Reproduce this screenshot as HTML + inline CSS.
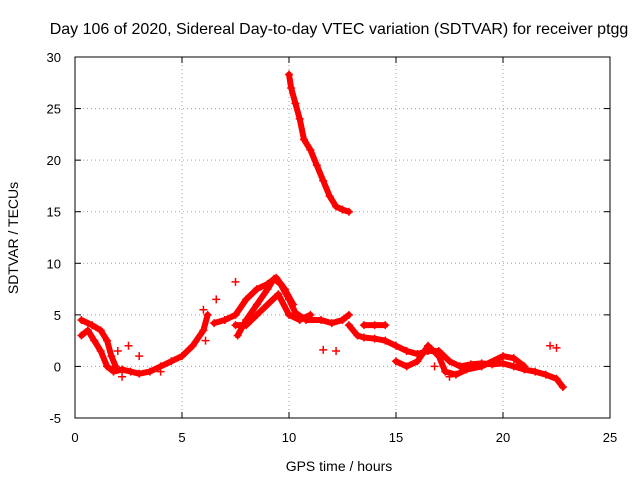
<!DOCTYPE html>
<html><head><meta charset="utf-8"><style>
body{margin:0;background:#fff}
svg{display:block;font-family:"Liberation Sans",sans-serif}
</style></head><body>
<svg id="chart" width="640" height="480" viewBox="0 0 640 480">
<text x="339" y="34" font-size="16" text-anchor="middle">Day 106 of 2020, Sidereal Day-to-day VTEC variation (SDTVAR) for receiver ptgg</text>
<text x="339" y="471" font-size="14" text-anchor="middle">GPS time / hours</text>
<text x="18" y="238" font-size="14" text-anchor="middle" transform="rotate(-90 18 238)">SDTVAR / TECUs</text>
<g id="grid"></g>
<g id="ticks"></g>
<g id="marks"></g>
<rect x="75" y="57" width="535" height="361" fill="none" stroke="#000" stroke-width="1"/>
</svg>
<script>
const xTicks=[0,5,10,15,20,25];
const yTicks=[-5,0,5,10,15,20,25,30];
const trackHigh=[[10,28.3],[10.1,27],[10.3,25.5],[10.5,24],[10.7,22],[11,21],[11.3,19.5],[11.6,18],[11.9,16.5],[12.2,15.5],[12.5,15.2],[12.8,15]];
const trackEarly1=[[0.3,3],[0.6,3.5],[0.9,2.5],[1.2,1.5],[1.5,0],[1.8,-0.5],[2.2,-0.3],[2.6,-0.5],[3,-0.7],[3.5,-0.5],[4,0],[4.5,0.5],[5,1],[5.5,2],[6,3.5],[6.2,5]];
const trackEarly2=[[0.3,4.5],[0.8,4],[1.2,3.5],[1.5,2.5],[1.7,1],[1.9,0]];
const trackHump1=[[7.6,3],[8,4.5],[8.5,6],[9,7.5],[9.3,8.5],[9.6,8],[10,6.5],[10.3,5.2],[10.8,4.5],[11.5,4.5],[12,4.2],[12.5,4.5],[12.8,5]];
const trackHump2=[[6.5,4.2],[7,4.5],[7.5,5],[8,6.5],[8.5,7.5],[9,8],[9.4,8.6],[9.8,7.5],[10.2,6]];
const trackHump3=[[7.5,4],[8,4],[8.5,5],[9,6],[9.5,7],[10,5],[10.5,4.5],[11,5]];
const trackLate1=[[12.8,4],[13.2,3],[13.5,2.8],[14,2.7],[14.5,2.5],[15,2],[15.5,1.5],[16,1.2],[16.5,1.5],[17,1.5],[17.5,0.5],[18,0],[18.5,0.2],[19,0.3],[19.5,0.2],[20,0.3],[20.5,0],[21,-0.3],[21.5,-0.5],[22,-0.8],[22.5,-1.2],[22.8,-2]];
const trackLate2=[[15,0.5],[15.5,0],[16,0.5],[16.5,2],[17,1],[17.3,-0.5],[17.8,-0.8],[18.3,-0.3],[19,0],[20,1],[20.5,0.8],[21,0]];
const trackLate3=[[13.5,4],[14,4],[14.5,4]];
const scattered=[[11.6,1.6],[12.2,1.5],[22.2,2],[22.5,1.8],[7.5,8.2],[6.6,6.5],[2,1.5],[2.5,2],[3,1],[2.2,-1],[6,5.5],[6.1,2.5],[4,-0.5],[16.8,0],[17.5,-1]];
const tracks=[trackHigh,trackEarly1,trackEarly2,trackHump1,trackHump2,trackHump3,trackLate1,trackLate2,trackLate3];
const NS="http://www.w3.org/2000/svg";
const X=v=>75+(v-0)*535/25, Y=v=>418-(v+5)*361/35;
const grid=document.getElementById('grid'),ticks=document.getElementById('ticks'),marks=document.getElementById('marks');
function mk(t,a,p){const e=document.createElementNS(NS,t);for(const k in a)e.setAttribute(k,a[k]);p.appendChild(e);return e;}
xTicks.forEach(t=>{const x=X(t);
 if(t>0&&t<25){const l=mk('line',{x1:x,x2:x,y1:57,y2:418,stroke:'#a0a0a0','stroke-dasharray':'1,3'},grid);}
 mk('line',{x1:x,x2:x,y1:418,y2:412,stroke:'#000'},ticks);mk('line',{x1:x,x2:x,y1:57,y2:63,stroke:'#000'},ticks);
 const tx=mk('text',{x:x,y:442,'font-size':13,'text-anchor':'middle'},ticks);tx.textContent=t;
 });
yTicks.forEach(t=>{const y=Y(t);
 if(t>-5&&t<30){const l=mk('line',{x1:75,x2:610,y1:y,y2:y,stroke:'#a0a0a0','stroke-dasharray':'1,3'},grid);}
 mk('line',{x1:75,x2:81,y1:y,y2:y,stroke:'#000'},ticks);mk('line',{x1:604,x2:610,y1:y,y2:y,stroke:'#000'},ticks);
 const tx=mk('text',{x:61,y:y+5,'font-size':13,'text-anchor':'end'},ticks);tx.textContent=t;
 });
tracks.forEach(tr=>{const pl=mk('polyline',{points:tr.map(p=>X(p[0])+','+Y(p[1])).join(' '),fill:'none',stroke:'#f00','stroke-width':6,'stroke-linejoin':'round','stroke-linecap':'round'},marks);
 });
tracks.concat([scattered]).forEach(tr=>tr.forEach(p=>{const x=X(p[0]),y=Y(p[1]);
 const g=mk('path',{d:`M${x-4},${y}H${x+4}M${x},${y-4}V${y+4}`,stroke:'#f00','stroke-width':1.5},marks);
 }));
</script>
</body></html>
